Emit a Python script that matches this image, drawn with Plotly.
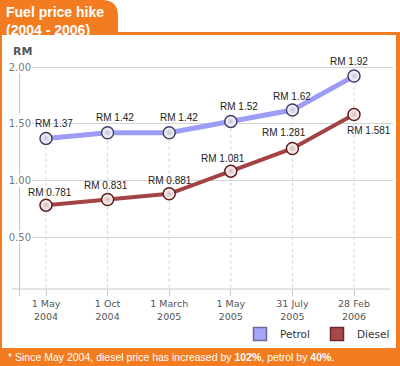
import plotly.graph_objects as go

# ---- data ----
dates = ["1 May<br>2004", "1 Oct<br>2004", "1 March<br>2005",
         "1 May<br>2005", "31 July<br>2005", "28 Feb<br>2006"]
petrol = [1.37, 1.42, 1.42, 1.52, 1.62, 1.92]
diesel = [0.781, 0.831, 0.881, 1.081, 1.281, 1.581]
petrol_labels = ["RM 1.37", "RM 1.42", "RM 1.42", "RM 1.52", "RM 1.62", "RM 1.92"]
diesel_labels = ["RM 0.781", "RM 0.831", "RM 0.881", "RM 1.081", "RM 1.281", "RM 1.581"]
y_ticks = [0.5, 1.0, 1.5, 2.0]
y_ticktext = ["0.50", "1.00", "1.50", "2.00"]

# ---- style ----
W, H = 400, 366
ORANGE = "#f47c20"
PETROL_C = "#9d9df5"
DIESEL_C = "#a34343"
GRID = "#d4d4d4"
# label pixel offsets (dx, dy)
petrol_off = [(8, 15), (7, 15), (10, 15), (8, 15), (0, 14), (-5, 15)]
diesel_off = [(4, 13), (-2, 14), (1, 13), (-8, 13), (-8, 16), (15, -16)]


def px(x):
    return x / W


def py(y):
    return 1 - y / H


x_idx = list(range(len(dates)))

fig = go.Figure()

# dashed drop lines from petrol point down to the axis
for i, v in zip(x_idx, petrol):
    fig.add_trace(go.Scatter(x=[i, i], y=[0, v], mode="lines",
                             line=dict(color="#cfcfcf", width=1, dash="3px,3px"),
                             hoverinfo="skip", showlegend=False))

fig.add_trace(go.Scatter(
    x=x_idx, y=petrol, mode="lines+markers", name="Petrol", showlegend=False,
    line=dict(color=PETROL_C, width=5),
    marker=dict(size=12, color="white", symbol="circle",
                gradient=dict(type="radial", color="#c4c4e0"),
                line=dict(color="#404066", width=1.5))))
fig.add_trace(go.Scatter(
    x=x_idx, y=diesel, mode="lines+markers", name="Diesel", showlegend=False,
    line=dict(color=DIESEL_C, width=4),
    marker=dict(size=12, color="white", symbol="circle",
                gradient=dict(type="radial", color="#dcb8b8"),
                line=dict(color="#5e1c1c", width=1.5))))

# legend-only swatches
fig.add_trace(go.Scatter(x=[None], y=[None], mode="markers", name="Petrol",
                         marker=dict(symbol="square", size=13, color="#a4a4f8",
                                     line=dict(color="#6a6a9a", width=1.5))))
fig.add_trace(go.Scatter(x=[None], y=[None], mode="markers", name="Diesel",
                         marker=dict(symbol="square", size=13, color="#a84848",
                                     line=dict(color="#6a2a2a", width=1.5))))

ann = []
lab_font = dict(family="Liberation Sans, Arial", size=10, color="#222222")
for i, v, t, (dx, dy) in zip(x_idx, petrol, petrol_labels, petrol_off):
    ann.append(dict(x=i, y=v, xref="x", yref="y", text=t, showarrow=False,
                    xshift=dx, yshift=dy, font=lab_font))
for i, v, t, (dx, dy) in zip(x_idx, diesel, diesel_labels, diesel_off):
    ann.append(dict(x=i, y=v, xref="x", yref="y", text=t, showarrow=False,
                    xshift=dx, yshift=dy, font=lab_font))

# title tab
ann.append(dict(x=px(4), y=py(2), xref="paper", yref="paper", xanchor="left", yanchor="top",
                align="left", showarrow=False,
                text="<b>Fuel price hike<br>(2004 - 2006)</b>",
                font=dict(family="Liberation Sans, Arial", size=14, color="white")))
# y-axis unit
ann.append(dict(x=px(11), y=py(52), xref="paper", yref="paper", xanchor="left", yanchor="middle",
                showarrow=False, text="<b>RM</b>",
                font=dict(family="DejaVu Sans", size=11, color="#555555")))
# footnote
ann.append(dict(x=px(6), y=py(357), xref="paper", yref="paper", xanchor="left", yanchor="middle",
                showarrow=False,
                text="* Since May 2004, diesel price has increased by <b>102%</b>, petrol by <b>40%</b>.",
                font=dict(family="Liberation Sans, Arial", size=10.5, color="white")))

shapes = [
    # orange frame
    dict(type="rect", xref="paper", yref="paper", x0=0, x1=1, y0=0, y1=py(32),
         fillcolor=ORANGE, line=dict(width=0), layer="below"),
    dict(type="rect", xref="paper", yref="paper", x0=px(2), x1=px(396), y0=py(348), y1=py(35),
         fillcolor="white", line=dict(width=0), layer="below"),
    # tab
    dict(type="path", xref="paper", yref="paper",
         path=f"M 0,{py(0)} L {px(102)},{py(0)} Q {px(118)},{py(0)} {px(118)},{py(16)} "
              f"L {px(118)},{py(34)} L 0,{py(34)} Z",
         fillcolor=ORANGE, line=dict(width=0), layer="below"),
    # x axis line
    dict(type="line", xref="paper", yref="paper", x0=px(12), x1=px(391), y0=py(289), y1=py(289),
         line=dict(color="#c8c8c8", width=1)),
    dict(type="line", xref="paper", yref="paper", x0=px(19.5), x1=px(19.5), y0=py(289), y1=py(296),
         line=dict(color="#c8c8c8", width=1)),
]
# vertical axis line, broken around tick labels
for a, b in [(73, 114), (126, 175), (187, 231), (243, 289)]:
    shapes.append(dict(type="line", xref="paper", yref="paper", x0=px(19.5), x1=px(19.5),
                       y0=py(a), y1=py(b), line=dict(color="#c8c8c8", width=1)))

# axis ranges so that cat 0 sits at x=46px, cat 5 at x=354px
step = (354 - 46) / 5
x_left, x_right = 32, 393
xr = [(x_left - 46) / step, (x_right - 46) / step]
# y: 2.00 at 67px, 0.50 at 237px
upp = (237 - 67) / 1.5
y_bot, y_top = 289, 60
yr = [0.5 - (y_bot - 237) / upp, 2.0 + (67 - y_top) / upp]

fig.update_layout(
    width=W, height=H, margin=dict(l=0, r=0, t=0, b=0, pad=0, autoexpand=False),
    paper_bgcolor="white", plot_bgcolor="rgba(0,0,0,0)",
    xaxis=dict(domain=[px(x_left), px(x_right)], range=xr, tickmode="array",
               tickvals=x_idx, ticktext=dates, showgrid=False, zeroline=False,
               showline=False, ticks="outside", ticklen=6, tickcolor="#c8c8c8",
               automargin=False,
               tickfont=dict(family="DejaVu Sans", size=9.5, color="#555555")),
    yaxis=dict(domain=[py(y_bot), py(y_top)], range=yr, tickmode="array",
               tickvals=y_ticks, ticktext=y_ticktext, showgrid=True, gridcolor=GRID,
               gridwidth=1, zeroline=False, showline=False, ticks="", automargin=False,
               tickfont=dict(family="DejaVu Sans", size=10, color="#777777")),
    legend=dict(orientation="h", x=px(240), y=py(334), xanchor="left", yanchor="middle",
                bgcolor="rgba(0,0,0,0)", font=dict(family="DejaVu Sans", size=10.5, color="#333333"),
                itemwidth=30, entrywidth=32, entrywidthmode="pixels", traceorder="normal"),
    annotations=ann, shapes=shapes,
)

fig.write_html("out.html", config={"displayModeBar": False},
               post_script="document.body.style.margin='0';document.body.style.overflow='hidden';")
